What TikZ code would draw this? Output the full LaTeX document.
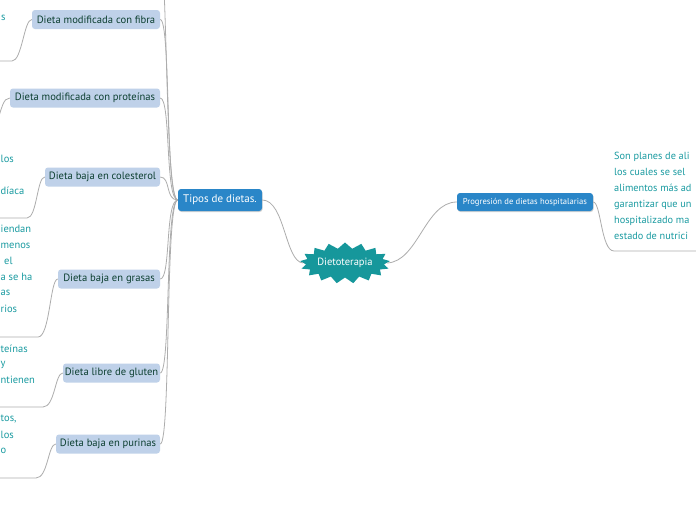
\documentclass[tikz,border=0pt]{standalone}
\usepackage{fontspec}
\setmainfont{PT Sans}
\usetikzlibrary{shapes.symbols,shadows}
\definecolor{mblue}{HTML}{2A86C8}
\definecolor{mlight}{HTML}{BFD1E9}
\definecolor{mdark}{HTML}{0C3F30}
\definecolor{mteal}{HTML}{1A9BA1}
\definecolor{mstar}{HTML}{16979B}
\definecolor{mline}{HTML}{ADADAD}
\tikzset{
  sub/.style={fill=mlight, rounded corners=3pt, text=mdark, font=\fontsize{10.6}{12}\selectfont, minimum height=19pt, inner sep=0pt, align=center},
  mainbox/.style={fill=mblue, rounded corners=3pt, text=white, inner sep=0pt, align=center, drop shadow={shadow xshift=0.6pt, shadow yshift=-1pt, opacity=0.35}},
  frag/.style={text=mteal, font=\fontsize{10.5}{12}\selectfont, inner sep=0pt, anchor=west},
  conn/.style={draw=mline, line width=0.8pt},
}
\begin{document}
\begin{tikzpicture}[x=1pt,y=-1pt]
\useasboundingbox (0,0) rectangle (696,520);
\clip (0,0) rectangle (696,520);
\fill[white] (0,0) rectangle (696,520);

% central
\node[starburst, starburst points=17, starburst point height=6pt, random starburst=0, fill=mstar, text=white, minimum width=86pt, minimum height=41pt, inner sep=0pt, font=\fontsize{10.5}{12}\selectfont] (root) at (345,263) {Dietoterapia};

\node[mainbox, minimum width=84pt, minimum height=22pt, font=\fontsize{11}{12}\selectfont] (tipos) at (220,200) {Tipos de dietas.};
\node[mainbox, minimum width=136pt, minimum height=18pt, font=\fontsize{8.6}{10}\selectfont] (prog) at (525,202) {Progresión de dietas hospitalarias};

% children
\node[sub, minimum width=128pt] (fibra) at (96,19.5) {Dieta modificada con fibra};
\node[sub, minimum width=150pt] (prot) at (85,98) {Dieta modificada con proteínas};
\node[sub, minimum width=115pt] (col) at (102.5,177) {Dieta baja en colesterol};
\node[sub, minimum width=102pt] (gras) at (109,279) {Dieta baja en grasas};
\node[sub, minimum width=97pt] (glut) at (111.5,373) {Dieta libre de gluten};
\node[sub, minimum width=104pt] (pur) at (108,444) {Dieta baja en purinas};

% free ends
\coordinate (top) at (160,-60);
\coordinate (fE) at (-2,61);
\coordinate (pE) at (-4,125);
\coordinate (cE) at (-2,218);
\coordinate (gE) at (-2,337);
\coordinate (lE) at (-2,407);
\coordinate (uE) at (-2,478);
\coordinate (rE) at (700,251);

% main connectors
\draw[conn] (tipos.east) .. controls (285,200) and (285,262) .. (root.west);
\draw[conn] (root.east) .. controls (418,262) and (425,202) .. (prog.west);

% branches from Tipos
\draw[conn] (tipos.west) .. controls (165,200) and (168,-20) .. (top);
\draw[conn] (tipos.west) .. controls (165,200) and (171,19.5) .. (fibra.east);
\draw[conn] (tipos.west) .. controls (165,200) and (171,98) .. (prot.east);
\draw[conn] (tipos.west) .. controls (165,200) and (171,177) .. (col.east);
\draw[conn] (tipos.west) .. controls (165,200) and (171,279) .. (gras.east);
\draw[conn] (tipos.west) .. controls (165,200) and (171,373) .. (glut.east);
\draw[conn] (tipos.west) .. controls (165,200) and (171,444) .. (pur.east);

% underline connectors on the left
\draw[conn] (fibra.west) .. controls (24,19.5) and (22,61) .. (12,61) -- (fE);
\draw[conn] (prot.west) .. controls (3,98) and (2,108) .. (pE);
\draw[conn] (col.west) .. controls (37,177) and (37,218) .. (27,218) -- (cE);
\draw[conn] (gras.west) .. controls (50,279) and (50,337) .. (38,337) -- (gE);
\draw[conn] (glut.west) .. controls (55,373) and (55,407) .. (43,407) -- (lE);
\draw[conn] (pur.west) .. controls (48,444) and (48,478) .. (36,478) -- (uE);
\draw[conn] (prog.east) .. controls (601,202) and (601,251) .. (614,251) -- (rE);

% cut-off text fragments on the left
\node[frag] (t1) at (1,18) {s};
\node[frag] (t2) at (0.5,159) {los};
\node[frag] (t3) at (0.5,191) {díaca};
\node[frag] (t4) at (0.5,229) {iendan};
\node[frag] (t5) at (0.5,246) {menos};
\node[frag] (t6) at (4,261) {el};
\node[frag] (t7) at (0.5,277) {a se ha};
\node[frag] (t8) at (0.5,293) {as};
\node[frag] (t9) at (0.5,309) {rios};
\node[frag] (t10) at (0.5,349) {teínas};
\node[frag] (t11) at (0.5,365) {y};
\node[frag] (t12) at (0.5,380) {ntienen};
\node[frag] (t13) at (0.5,419) {tos,};
\node[frag] (t14) at (0.5,435) {los};
\node[frag] (t15) at (0.5,451) {o};

% right paragraph
\node[text=mteal, font=\fontsize{10.3}{16}\selectfont, inner sep=0pt, anchor=north west, align=left] (desc) at (614,152) {Son planes de ali\\los cuales se sel\\alimentos más ad\\garantizar que un\\hospitalizado ma\\estado de nutrici};
\end{tikzpicture}
\end{document}
